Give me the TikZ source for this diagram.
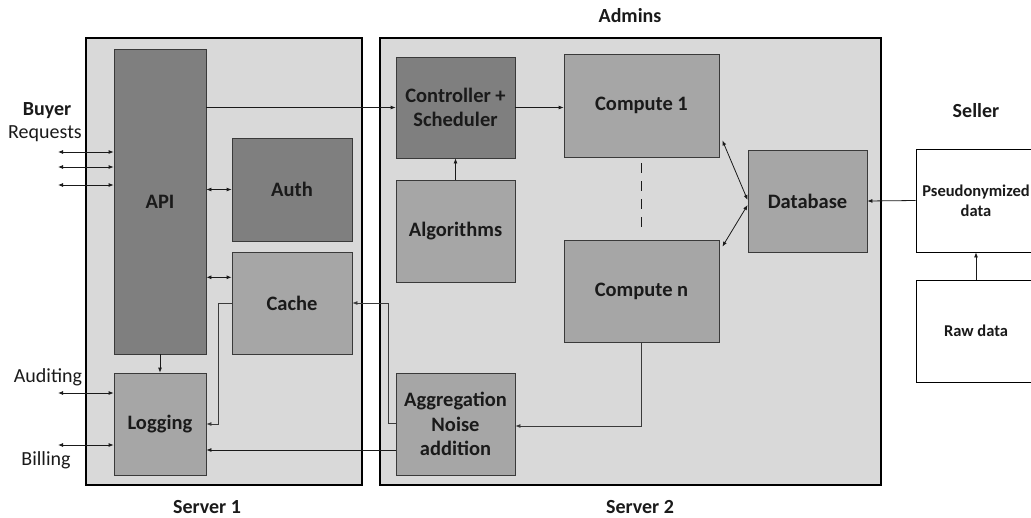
\documentclass[tikz,border=0pt]{standalone}
\usepackage{fontspec}
\setmainfont{Carlito}
\usetikzlibrary{arrows.meta,calc}

\definecolor{srvfill}{HTML}{D9D9D9}
\definecolor{darkfill}{HTML}{7F7F7F}
\definecolor{midfill}{HTML}{A6A6A6}
\definecolor{edge}{HTML}{3A3A3A}
\definecolor{ink}{HTML}{1A1A1A}

\begin{document}
\begin{tikzpicture}[x=1pt,y=-1pt,
  lbl/.style={font=\fontsize{20}{24}\selectfont, text=ink, inner sep=0pt},
  blbl/.style={lbl, font=\bfseries\fontsize{20}{24}\selectfont},
  server/.style={draw=black, line width=1.8pt, fill=srvfill},
  comp/.style={draw=edge, line width=0.8pt, fill=#1, align=center, inner sep=0pt,
    text=ink, font=\bfseries\fontsize{20.5}{24.5}\selectfont},
  ext/.style={draw=black, line width=0.8pt, fill=white, align=center, inner sep=0pt,
    text=ink, font=\bfseries\fontsize{16.5}{20}\selectfont},
  arr/.style={draw=ink, line width=0.8pt, -{Latex[length=5pt,width=4pt]}},
  dbl/.style={draw=ink, line width=0.8pt, {Latex[length=5pt,width=4pt]}-{Latex[length=5pt,width=4pt]}},
]
\clip (0,0) rectangle (1031,517);
\useasboundingbox (0,0) rectangle (1031,517);

% server enclosures
\draw[server] (86,38) rectangle (362,485);
\draw[server] (380,38) rectangle (881,485);

% Server 1 components
\node[comp=darkfill, minimum width=92pt, minimum height=305pt] (api) at (160,201.5) {API};
\node[comp=darkfill, minimum width=120pt, minimum height=103pt] (auth) at (292,189.5) {Auth};
\node[comp=midfill, minimum width=120pt, minimum height=102pt] (cache) at (292,303) {Cache};
\node[comp=midfill, minimum width=92pt, minimum height=102pt] (logging) at (160,424) {Logging};

% Server 2 components
\node[comp=darkfill, minimum width=119pt, minimum height=101pt] (ctrl) at (455.5,107.5) {Controller +\\Scheduler};
\node[comp=midfill, minimum width=119pt, minimum height=102pt] (algo) at (455.5,231) {Algorithms};
\node[comp=midfill, minimum width=155pt, minimum height=103pt] (c1) at (641.5,105.5) {Compute 1};
\node[comp=midfill, minimum width=155pt, minimum height=102pt] (cn) at (641.5,291) {Compute n};
\node[comp=midfill, minimum width=119pt, minimum height=102pt] (agg) at (455.5,424) {Aggregation\\Noise\\addition};
\node[comp=midfill, minimum width=119pt, minimum height=102pt] (db) at (807.5,201) {Database};

% seller side
\node[ext, minimum width=120pt, minimum height=103pt] (pseudo) at (976,200.5) {Pseudonymized\\data};
\node[ext, minimum width=120pt, minimum height=102pt] (raw) at (976,331) {Raw data};

% titles and side labels
\node[blbl] (admins) at (630,16) {Admins};
\node[blbl] (seller) at (976,111) {Seller};
\node[blbl] (s1) at (207,507) {Server 1};
\node[blbl] (s2) at (640,507) {Server 2};
\node[blbl] (buyer) at (47,111) {Buyer};
\node[lbl] (requests) at (45,134) {Requests};
\node[lbl] (auditing) at (48,377) {Auditing};
\node[lbl] (billing) at (46,460) {Billing};

% free ends of the external connectors
\coordinate (req1) at (58,152);
\coordinate (req2) at (58,167);
\coordinate (req3) at (58,185);
\coordinate (aud) at (58,393);
\coordinate (bill) at (58,445);

% buyer requests, auditing, billing
\draw[dbl] (req1) -- (req1 -| api.west);
\draw[dbl] (req2) -- (req2 -| api.west);
\draw[dbl] (req3) -- (req3 -| api.west);
\draw[dbl] (aud) -- (aud -| logging.west);
\draw[dbl] (bill) -- (bill -| logging.west);

% inside Server 1
\draw[dbl] (auth.west -| api.east) -- (auth.west);
\coordinate (cacheup) at ($(cache.north west)!0.25!(cache.south west)$);
\draw[dbl] (cacheup -| api.east) -- (cacheup);
\draw[arr] (api.south) -- (logging.north);
\draw[arr, draw=edge] (cache.west) -- ++(-13,0) |- (logging.east);

% across servers
\draw[arr] (ctrl.west -| api.east) -- (ctrl.west);
\draw[arr] (ctrl.east) -- (ctrl.east -| c1.west);
\draw[arr] (algo.north) -- (ctrl.south);
\draw[draw=ink, line width=0.8pt, dash pattern=on 10pt off 8pt]
  ([yshift=-6pt]c1.south) -- ([yshift=10pt]cn.north);
\draw[dbl] ([xshift=3pt,yshift=17pt]c1.south east) -- ([yshift=1pt]db.west);
\draw[dbl] ([xshift=3pt,yshift=-7pt]cn.north east) -- ([yshift=-4pt]db.west);
\draw[arr] (pseudo.west) -- (db.east);
\draw[arr] (raw.north) -- (pseudo.south);
\draw[arr, draw=edge] (cn.south) |- ([yshift=-2pt]agg.east);
\draw[arr, draw=edge] ([yshift=1pt]agg.west) -- ++(-7,0) |- (cache.east);
\coordinate (aggbill) at ([yshift=-26pt]agg.west);
\draw[arr] (aggbill) -- (aggbill -| logging.east);
\end{tikzpicture}
\end{document}
